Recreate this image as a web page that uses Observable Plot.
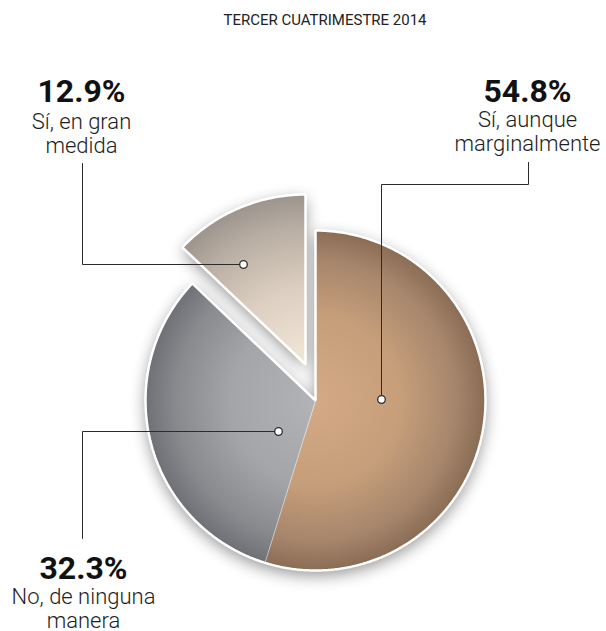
<!DOCTYPE html>
<html><head><meta charset="utf-8">
<script src="https://cdn.jsdelivr.net/npm/d3@7"></script>
<script src="https://cdn.jsdelivr.net/npm/@observablehq/plot@0.6"></script>
<style>
body{margin:0;background:#fff;}
#chart svg{display:block;font-family:Roboto,"DejaVu Sans",sans-serif;}
</style>
</head><body><div id="chart"></div>
<script>
// ---- data ----
const title = "TERCER CUATRIMESTRE 2014";
const categories = ["Sí, aunque marginalmente", "No, de ninguna manera", "Sí, en gran medida"];
const labelLines = [["Sí, aunque", "marginalmente"], ["No, de ninguna", "manera"], ["Sí, en gran", "medida"]];
const values = [54.8, 32.3, 12.9];
const valueLabels = ["54.8%", "32.3%", "12.9%"];

// ---- layout (units = px, origin at pie centre, y down) ----
const W = 606, H = 631, CX = 315, CY = 400, R = 170;
const explode = [[0, 0], [0, 0], [-10, -36]];
const dotPos = [[66, -1], [-37, 31], [-72, -136]];
const leaders = [
  [[66, -1], [66, -216], [213, -216], [213, -238]],
  [[-37, 31], [-233, 31], [-233, 138]],
  [[-72, -136], [-233, -136], [-233, -237]]
];
const labelX = [212, -232, -234];
const pctBase = [-299, 178, -299];
const descLastBase = [-250, 227, -248];
const gradStops = [
  [[0, "#d3aa85"], [0.5, "#c69e7a"], [0.82, "#a7866c"], [1, "#8a6c54"]],
  [[0, "#b2b3b6"], [0.5, "#a3a5a8"], [0.82, "#888a8e"], [1, "#6e7075"]],
  [[0, "#f3e7da"], [0.45, "#dccfc1"], [0.8, "#b9aea3"], [1, "#9c948d"]]
];

const rows = categories.map((c, i) => ({key: i, category: c, value: values[i]}));
const arcs = d3.pie().sort(null).value(d => d.value)(rows);

function arcPolygon(a0, a1, ox, oy, key) {
  const pts = [{x: ox, y: oy, key}];
  const n = Math.max(2, Math.ceil((a1 - a0) / (Math.PI / 360)));
  for (let k = 0; k <= n; ++k) {
    const t = a0 + (a1 - a0) * k / n;
    pts.push({x: ox + R * Math.sin(t), y: oy - R * Math.cos(t), key});
  }
  return pts;
}

const slicePolys = arcs.map((a, i) => arcPolygon(a.startAngle, a.endAngle, explode[i][0], explode[i][1], i));
const joined = arcs.filter((a, i) => explode[i][0] === 0 && explode[i][1] === 0);
const mainOutline = arcPolygon(joined[0].startAngle, joined[joined.length - 1].endAngle, 0, 0, "main");
const outlines = [mainOutline, ...arcs.map((a, i) => (explode[i][0] || explode[i][1]) ? slicePolys[i].map(p => ({...p, key: "ex" + i})) : null).filter(Boolean)];
const outlinePts = outlines.flat();

const leaderPts = leaders.flatMap((l, i) => l.map(([x, y]) => ({x, y, key: i})));
const dots = dotPos.map(([x, y], i) => ({x, y, key: i}));
const labels = rows.map((r, i) => ({
  x: labelX[i], pctY: pctBase[i], descY: descLastBase[i],
  pct: valueLabels[i], desc: labelLines[i].join("\n")
}));

const plot = Plot.plot({
  width: W, height: H, margin: 0,
  x: {domain: [-CX, W - CX], range: [0, W], axis: null},
  y: {domain: [-CY, H - CY], range: [0, H], axis: null},
  style: {background: "white", fontFamily: "Roboto, sans-serif", overflow: "visible"},
  marks: [
    Plot.line(outlinePts, {x: "x", y: "y", z: "key", fill: "#000", stroke: "none", curve: "linear-closed"}),
    ...slicePolys.map((pts, i) => Plot.line(pts, {
      x: "x", y: "y", curve: "linear-closed", fill: `url(#sliceGrad${i})`,
      stroke: "#ffffff", strokeOpacity: 0.55, strokeWidth: 0.8
    })),
    Plot.line(outlinePts, {x: "x", y: "y", z: "key", fill: "none", stroke: "#ffffff", strokeWidth: 2.5, curve: "linear-closed", strokeLinejoin: "miter"}),
    Plot.line(leaderPts, {x: "x", y: "y", z: "key", stroke: "#2b2b2b", strokeWidth: 1}),
    Plot.dot(dots, {x: "x", y: "y", r: 3.8, fill: "#ffffff", stroke: "#2b2b2b", strokeWidth: 1.3}),
    Plot.text(labels, {x: "x", y: "pctY", text: "pct", fontSize: 32, fontWeight: 700, fill: "#111", lineAnchor: "bottom", textAnchor: "middle"}),
    Plot.text(labels, {x: "x", y: "descY", text: "desc", fontSize: 22, fontWeight: 300, fill: "#1e1e1e", lineAnchor: "bottom", lineHeight: 1.07, textAnchor: "middle"}),
    Plot.text([title], {x: 9.5, y: -376, text: d => d, fontSize: 15, fill: "#222", lineAnchor: "bottom", textAnchor: "middle"})
  ]
});

// gradients & shadow filter
const svg = d3.select(plot);
const defs = svg.insert("defs", ":first-child");
const xs = plot.scale("x"), ys = plot.scale("y");
gradStops.forEach((stops, i) => {
  const g = defs.append("radialGradient").attr("id", `sliceGrad${i}`)
    .attr("gradientUnits", "userSpaceOnUse")
    .attr("cx", xs.apply(explode[i][0])).attr("cy", ys.apply(explode[i][1]))
    .attr("r", R);
  stops.forEach(([o, c]) => g.append("stop").attr("offset", o).attr("stop-color", c));
});
const f = defs.append("filter").attr("id", "pieShadow")
  .attr("filterUnits", "userSpaceOnUse")
  .attr("x", 0).attr("y", 0).attr("width", W).attr("height", H);
f.append("feGaussianBlur").attr("in", "SourceAlpha").attr("stdDeviation", 8).attr("result", "b");
f.append("feOffset").attr("in", "b").attr("dy", 5).attr("result", "o");
const ct = f.append("feComponentTransfer").attr("in", "o");
ct.append("feFuncA").attr("type", "linear").attr("slope", 0.42);
const lineGroups = svg.selectAll('g[aria-label="line"]').nodes();
if (lineGroups.length) d3.select(lineGroups[0]).attr("filter", "url(#pieShadow)");

document.getElementById("chart").appendChild(plot);
</script>
</body></html>
